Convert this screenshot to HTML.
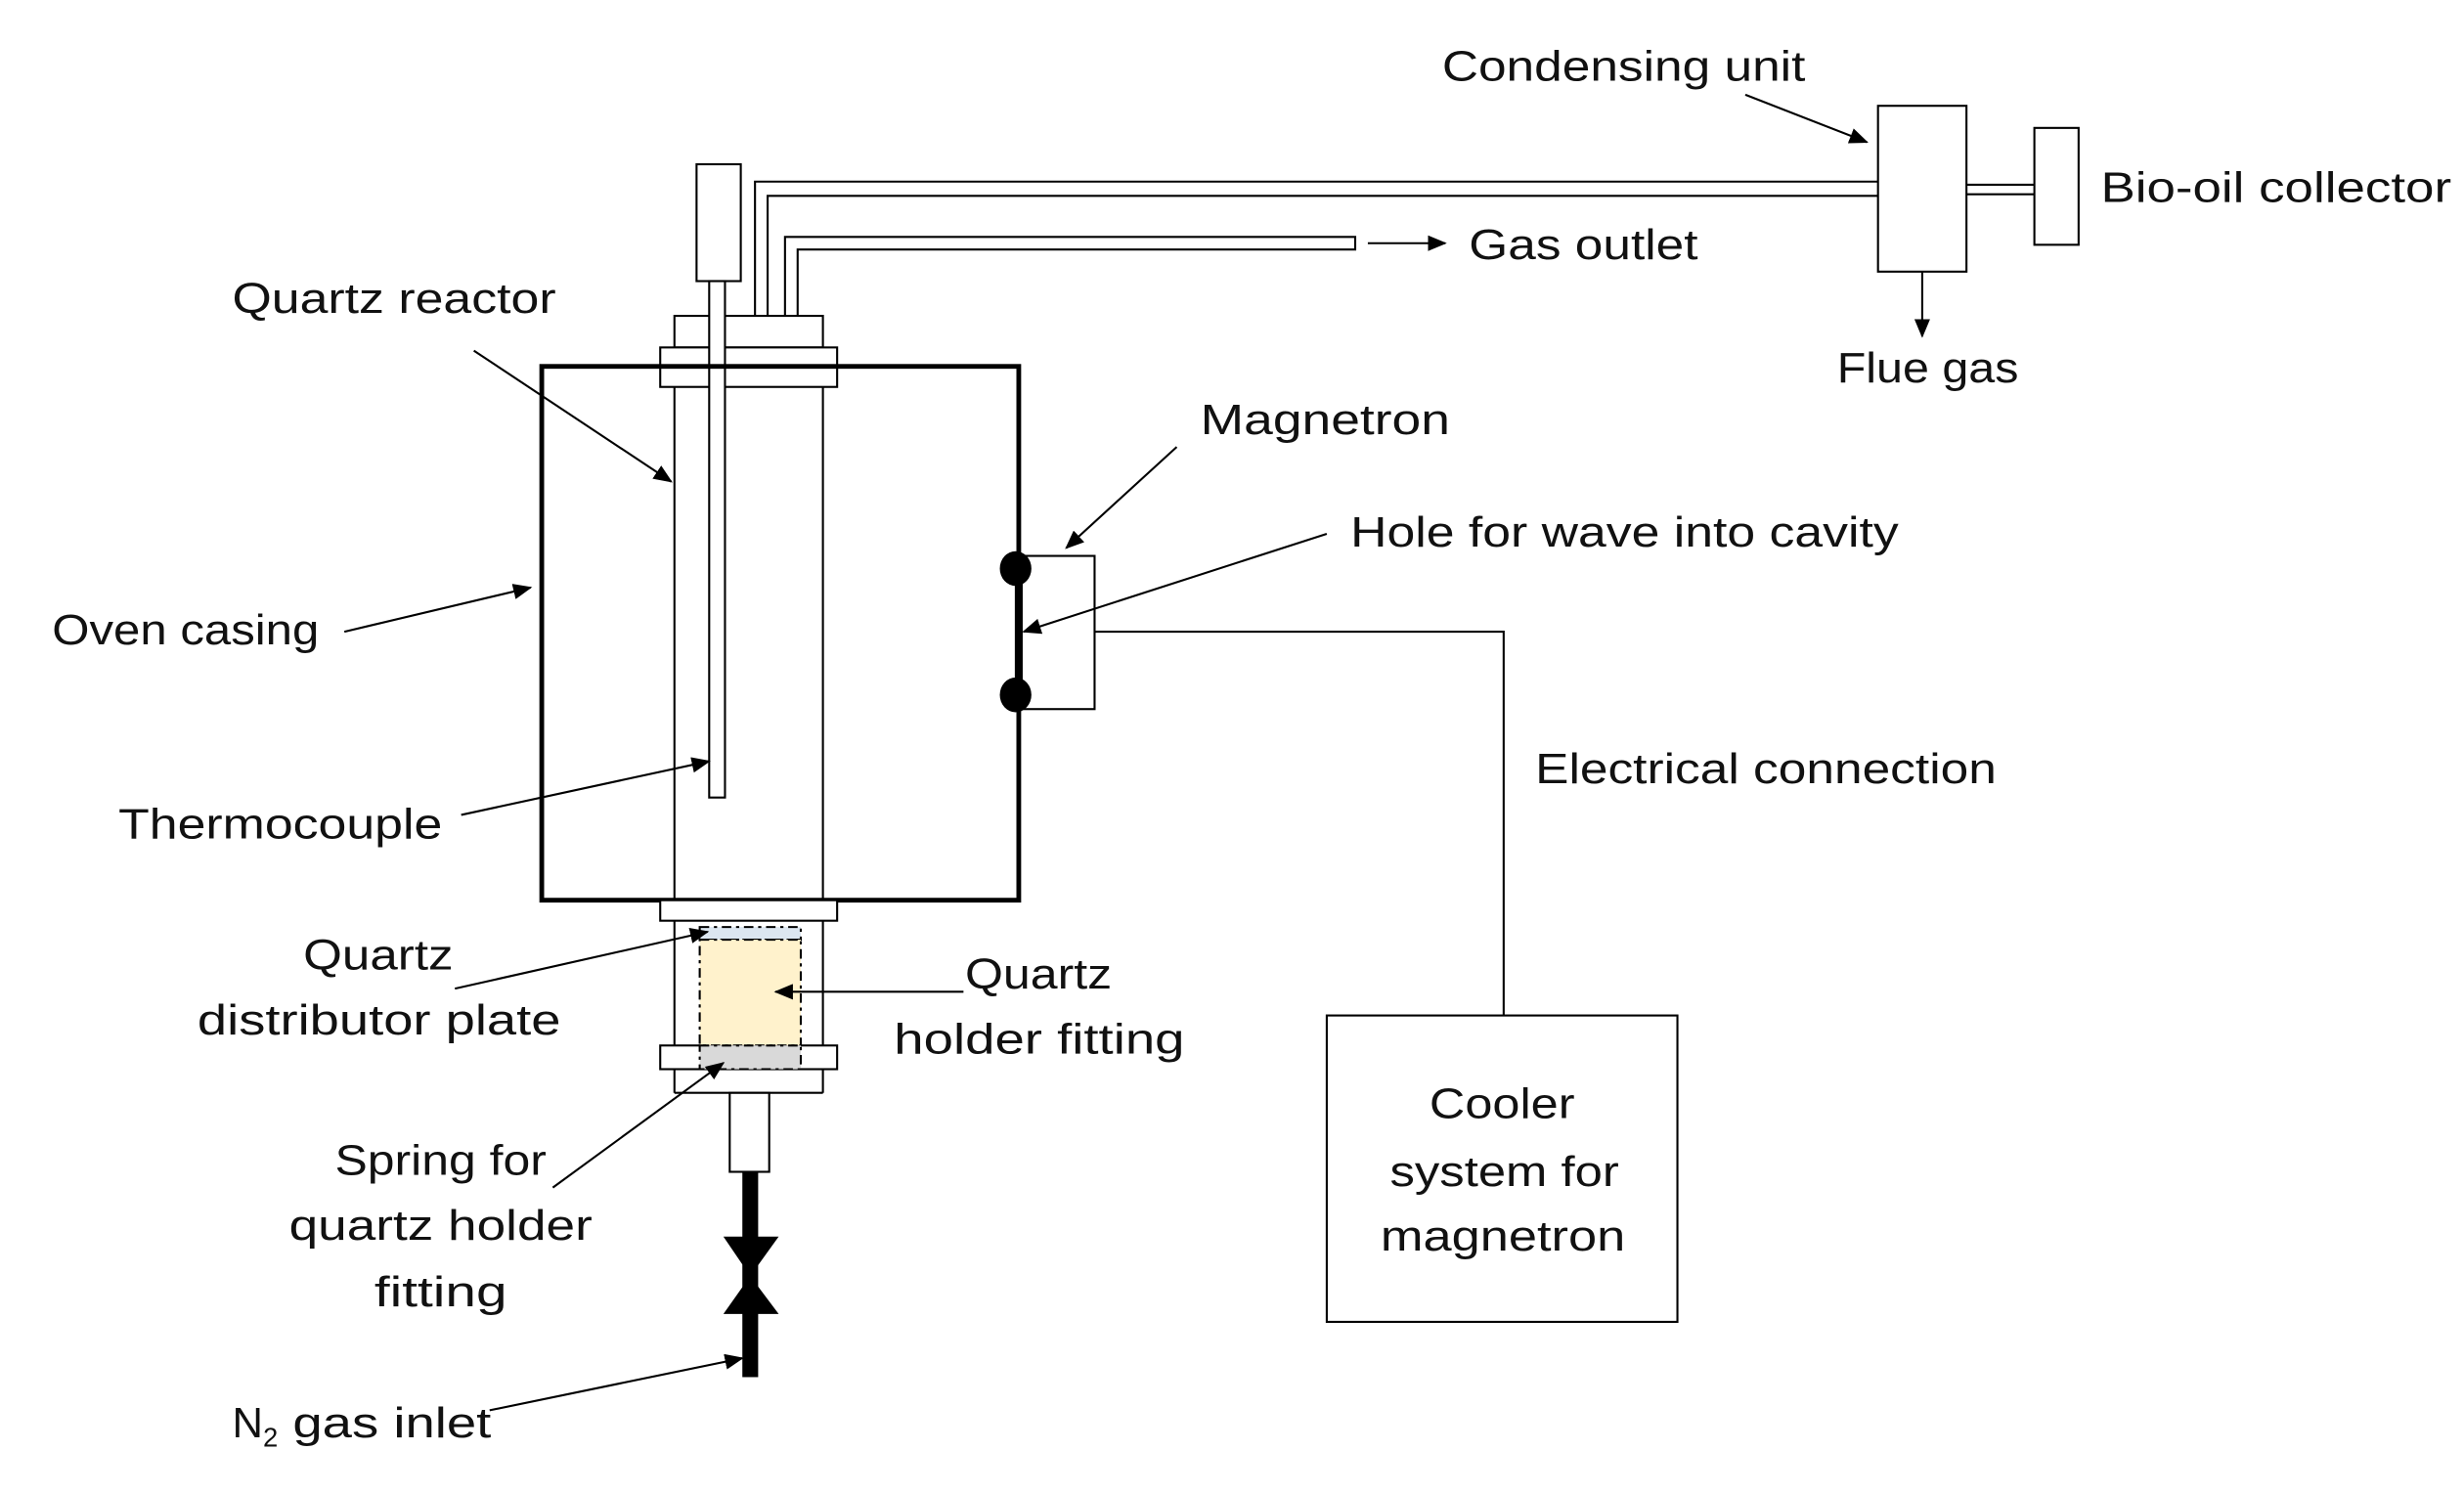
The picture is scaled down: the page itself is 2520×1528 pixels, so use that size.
<!DOCTYPE html>
<html><head><meta charset="utf-8"><style>
html,body{margin:0;padding:0;background:#fff;}
svg{display:block;}
text{font-family:"Liberation Sans",sans-serif;font-size:27px;fill:#111;}
</style></head><body>
<svg width="2520" height="1528" viewBox="0 0 1560 946" preserveAspectRatio="none" xmlns="http://www.w3.org/2000/svg">
<defs>
<marker id="a" markerWidth="12" markerHeight="10" refX="11" refY="5" orient="auto" markerUnits="userSpaceOnUse"><path d="M0,0 L12,5 L0,10 z" fill="#000"/></marker>
</defs>
<g fill="none" stroke="#000" stroke-width="1.3">
<rect x="441" y="104" width="28" height="74" fill="#fff"/>
<path d="M478,200 V115 H1190"/>
<path d="M486,200 V124 H1190"/>
<path d="M497,200 V150 H858 V158 H505 V200"/>
<rect x="427" y="200" width="94" height="20" fill="#fff"/>
<rect x="418" y="220" width="112" height="25" fill="#fff"/>
<line x1="427" y1="245" x2="427" y2="692"/>
<line x1="521" y1="245" x2="521" y2="692"/>
<line x1="427" y1="692" x2="521" y2="692"/>
<rect x="449" y="178" width="10" height="327" fill="#fff"/>
<rect x="343" y="232" width="302" height="338" stroke-width="3"/>
<rect x="418" y="570" width="112" height="13" fill="#fff"/>
<rect x="418" y="662" width="112" height="15" fill="#fff"/>
<rect x="443" y="587" width="64" height="8" fill="#dce6f0" stroke-dasharray="6,3,2,3"/>
<rect x="443" y="595" width="64" height="67" fill="#fff2cc" stroke-dasharray="6,3,2,3"/>
<rect x="443" y="662" width="64" height="15" fill="#d9d9d9" stroke-dasharray="6,3,2,3"/>
<rect x="462" y="692" width="25" height="50" fill="#fff"/>
<rect x="645" y="352" width="48" height="97" fill="#fff"/>
<line x1="645" y1="360" x2="645" y2="440" stroke-width="5"/>
<path d="M693,400 H952 V643"/>
<rect x="840" y="643" width="222" height="194"/>
<rect x="1189" y="67" width="56" height="105" fill="#fff"/>
<rect x="1288" y="81" width="28" height="74"/>
<line x1="1245" y1="117" x2="1288" y2="117"/>
<line x1="1245" y1="123" x2="1288" y2="123"/>
<line x1="866" y1="154" x2="915" y2="154" marker-end="url(#a)"/>
<line x1="1217" y1="172" x2="1217" y2="213" marker-end="url(#a)"/>
<line x1="1105" y1="60" x2="1182" y2="90" marker-end="url(#a)"/>
<line x1="745" y1="283" x2="675" y2="347" marker-end="url(#a)"/>
<line x1="840" y1="338" x2="648" y2="400" marker-end="url(#a)"/>
<line x1="300" y1="222" x2="425" y2="305" marker-end="url(#a)"/>
<line x1="218" y1="400" x2="336" y2="372" marker-end="url(#a)"/>
<line x1="292" y1="516" x2="449" y2="482" marker-end="url(#a)"/>
<line x1="288" y1="626" x2="448" y2="590" marker-end="url(#a)"/>
<line x1="610" y1="628" x2="491" y2="628" marker-end="url(#a)"/>
<line x1="350" y1="752" x2="458" y2="673" marker-end="url(#a)"/>
<line x1="310" y1="893" x2="470" y2="860" marker-end="url(#a)"/>
</g>
<ellipse cx="643" cy="360" rx="10" ry="11" fill="#000"/>
<ellipse cx="643" cy="440" rx="10" ry="11" fill="#000"/>
<rect x="470" y="742" width="10" height="130" fill="#000"/>
<path d="M458,783 L493,783 L475,808 Z M458,832 L493,832 L475,808 Z" fill="#000"/>
<g>
<text x="913" y="51" textLength="230" lengthAdjust="spacingAndGlyphs">Condensing unit</text>
<text x="1330" y="128" textLength="222" lengthAdjust="spacingAndGlyphs">Bio-oil collector</text>
<text x="930" y="164" textLength="145" lengthAdjust="spacingAndGlyphs">Gas outlet</text>
<text x="1163" y="242" textLength="115" lengthAdjust="spacingAndGlyphs">Flue gas</text>
<text x="147" y="198" textLength="205" lengthAdjust="spacingAndGlyphs">Quartz reactor</text>
<text x="760" y="275" textLength="158" lengthAdjust="spacingAndGlyphs">Magnetron</text>
<text x="855" y="346" textLength="347" lengthAdjust="spacingAndGlyphs">Hole for wave into cavity</text>
<text x="33" y="408" textLength="169" lengthAdjust="spacingAndGlyphs">Oven casing</text>
<text x="972" y="496" textLength="292" lengthAdjust="spacingAndGlyphs">Electrical connection</text>
<text x="75" y="531" textLength="205" lengthAdjust="spacingAndGlyphs">Thermocouple</text>
<text x="192" y="614" textLength="95" lengthAdjust="spacingAndGlyphs">Quartz</text>
<text x="125" y="655" textLength="230" lengthAdjust="spacingAndGlyphs">distributor plate</text>
<text x="611" y="626" textLength="93" lengthAdjust="spacingAndGlyphs">Quartz</text>
<text x="566" y="667" textLength="184" lengthAdjust="spacingAndGlyphs">holder fitting</text>
<text x="212" y="744" textLength="134" lengthAdjust="spacingAndGlyphs">Spring for</text>
<text x="183" y="785" textLength="192" lengthAdjust="spacingAndGlyphs">quartz holder</text>
<text x="237" y="827" textLength="84" lengthAdjust="spacingAndGlyphs">fitting</text>
<text x="905" y="708" textLength="92" lengthAdjust="spacingAndGlyphs">Cooler</text>
<text x="880" y="751" textLength="145" lengthAdjust="spacingAndGlyphs">system for</text>
<text x="874" y="792" textLength="155" lengthAdjust="spacingAndGlyphs">magnetron</text>
<text x="147" y="910">N<tspan font-size="17" dy="6">2</tspan><tspan dy="-6" textLength="135" lengthAdjust="spacingAndGlyphs"> gas inlet</tspan></text>
</g>
</svg>
</body></html>
